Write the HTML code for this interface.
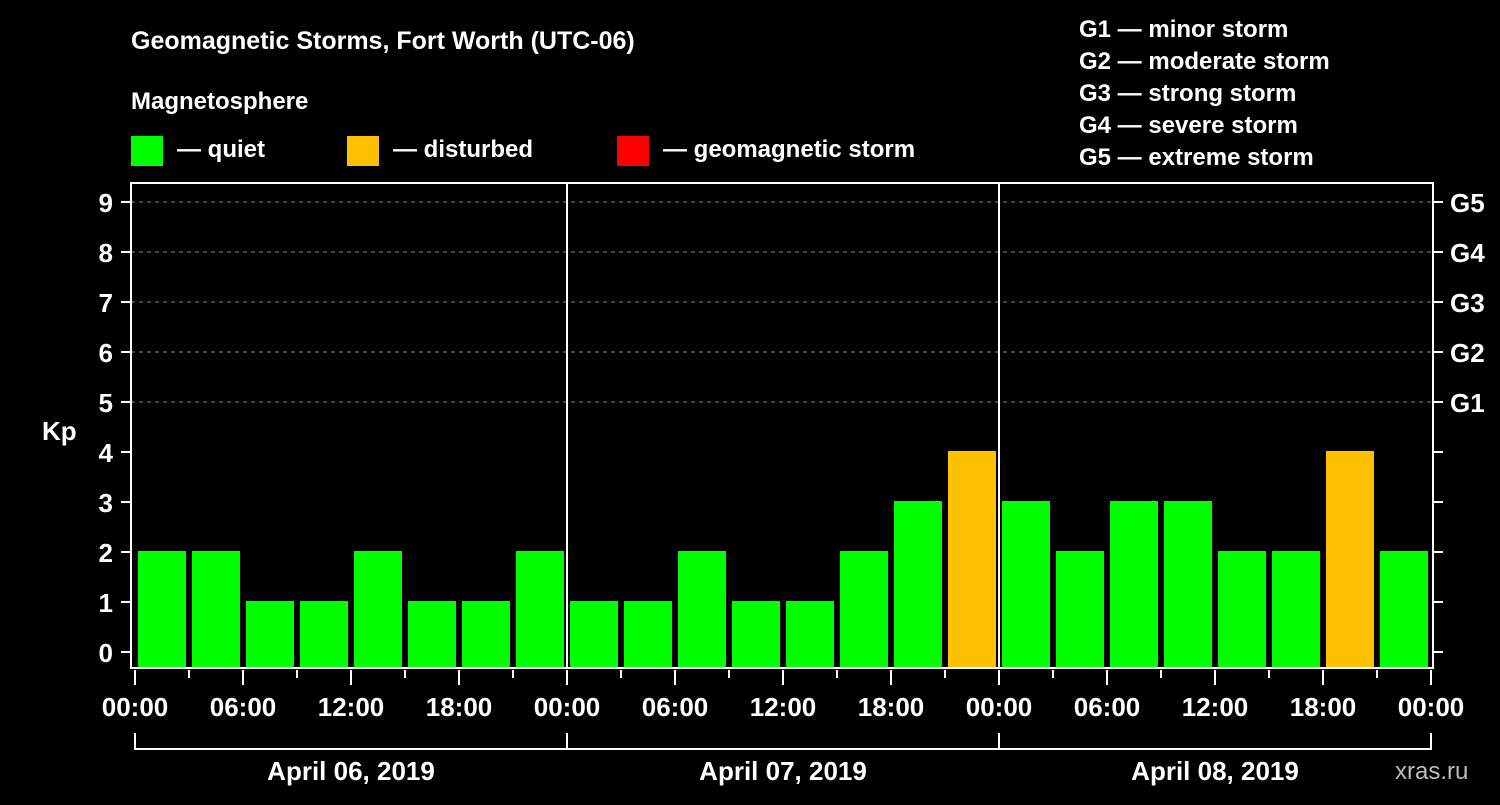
<!DOCTYPE html>
<html><head><meta charset="utf-8"><style>
body{margin:0;background:#000;width:1500px;height:800px;overflow:hidden;font-family:"Liberation Sans",sans-serif}
svg text{font-family:"Liberation Sans",sans-serif;font-weight:bold;fill:#fff}
</style></head><body>
<svg id="chart" width="1500" height="800" viewBox="0 0 1500 800">
<text x="131" y="49" font-size="25">Geomagnetic Storms, Fort Worth (UTC-06)</text>
<text x="131" y="109" font-size="24">Magnetosphere</text>
<g><rect x="131" y="136" width="32" height="30" fill="#00ff00"/><text x="177" y="157" font-size="24">— quiet</text></g>
<g><rect x="347" y="136" width="32" height="30" fill="#ffc000"/><text x="393" y="157" font-size="24">— disturbed</text></g>
<g><rect x="617" y="136" width="32" height="30" fill="#ff0000"/><text x="663" y="157" font-size="24">— geomagnetic storm</text></g>
<g font-size="24">
<text x="1079" y="37">G1 — minor storm</text>
<text x="1079" y="69">G2 — moderate storm</text>
<text x="1079" y="101">G3 — strong storm</text>
<text x="1079" y="133">G4 — severe storm</text>
<text x="1079" y="165">G5 — extreme storm</text>
</g>
<text x="42" y="440" font-size="26">Kp</text>
<text x="1395" y="779" font-size="24" fill="#bbb" style="fill:#bbb;font-weight:normal">xras.ru</text>
<g id="grid"></g><g id="bars"></g><g id="axes"></g>
</svg>
<script>
const days=["April 06, 2019","April 07, 2019","April 08, 2019"];
const kpValues=[2,2,1,1,2,1,1,2, 1,1,2,1,1,2,3,4, 3,2,3,3,2,2,4,2];
const yTicks=[0,1,2,3,4,5,6,7,8,9];
const gLabels=["G1","G2","G3","G4","G5"];
const gLevels=[5,6,7,8,9];
const hourLabels=["00:00","06:00","12:00","18:00"];
const NS="http://www.w3.org/2000/svg";
const X0=135,DAY=432,L=131,R=1433,T=183,B=668;
const x=h=>X0+h*DAY/24;
const y=v=>652-v*50;
function mk(tag,attrs,parent,txt){const e=document.createElementNS(NS,tag);for(const k in attrs)e.setAttribute(k,attrs[k]);if(txt!==undefined)e.textContent=txt;parent.appendChild(e);return e;}
const grid=document.getElementById('grid'),bars=document.getElementById('bars'),axes=document.getElementById('axes');
gLevels.forEach((v,i)=>{
 const ln=mk('line',{x1:L,x2:R,y1:y(v),y2:y(v),stroke:'#888','stroke-dasharray':'4,4','stroke-width':1},grid);
 
 
 const t=mk('text',{x:1450,y:y(v)+10,'font-size':26},axes,gLabels[i]);
 
 
});
kpValues.forEach((v,i)=>{
 const c=v>=5?'#ff0000':(v>=4?'#ffc000':'#00ff00');
 const top=y(v)-1;
 const r=mk('rect',{x:x(i*3)+3,y:top,width:48,height:B-top,fill:c},bars);
 
 
});
mk('rect',{x:L,y:T,width:R-L,height:B-T,fill:'none',stroke:'#fff','stroke-width':2},axes);
for(let d=1;d<days.length;d++){mk('line',{x1:x(d*24),x2:x(d*24),y1:T,y2:B,stroke:'#fff','stroke-width':2},axes);}
yTicks.forEach(v=>{
 mk('line',{x1:121,x2:L,y1:y(v),y2:y(v),stroke:'#fff','stroke-width':2},axes);
 mk('line',{x1:R,x2:R+10,y1:y(v),y2:y(v),stroke:'#fff','stroke-width':2},axes);
 const t=mk('text',{x:113,y:y(v)+10,'font-size':26,'text-anchor':'end'},axes,String(v));
 
 
});
for(let h=0;h<=days.length*24;h+=3){
 const major=h%6===0;
 mk('line',{x1:x(h),x2:x(h),y1:B+2,y2:major?685:678,stroke:'#fff','stroke-width':2},axes);
 if(major){
  const t=mk('text',{x:x(h),y:716,'font-size':26,'text-anchor':'middle'},axes,hourLabels[(h/6)%4]);
  
  
 }
}
days.forEach((d,i)=>{
 mk('path',{d:`M${x(i*24)},733V749H${x((i+1)*24)}V733`,fill:'none',stroke:'#fff','stroke-width':2},axes);
 const t=mk('text',{x:x(i*24+12),y:780,'font-size':26,'text-anchor':'middle'},axes,d);
 
 
});
</script>
</body></html>
